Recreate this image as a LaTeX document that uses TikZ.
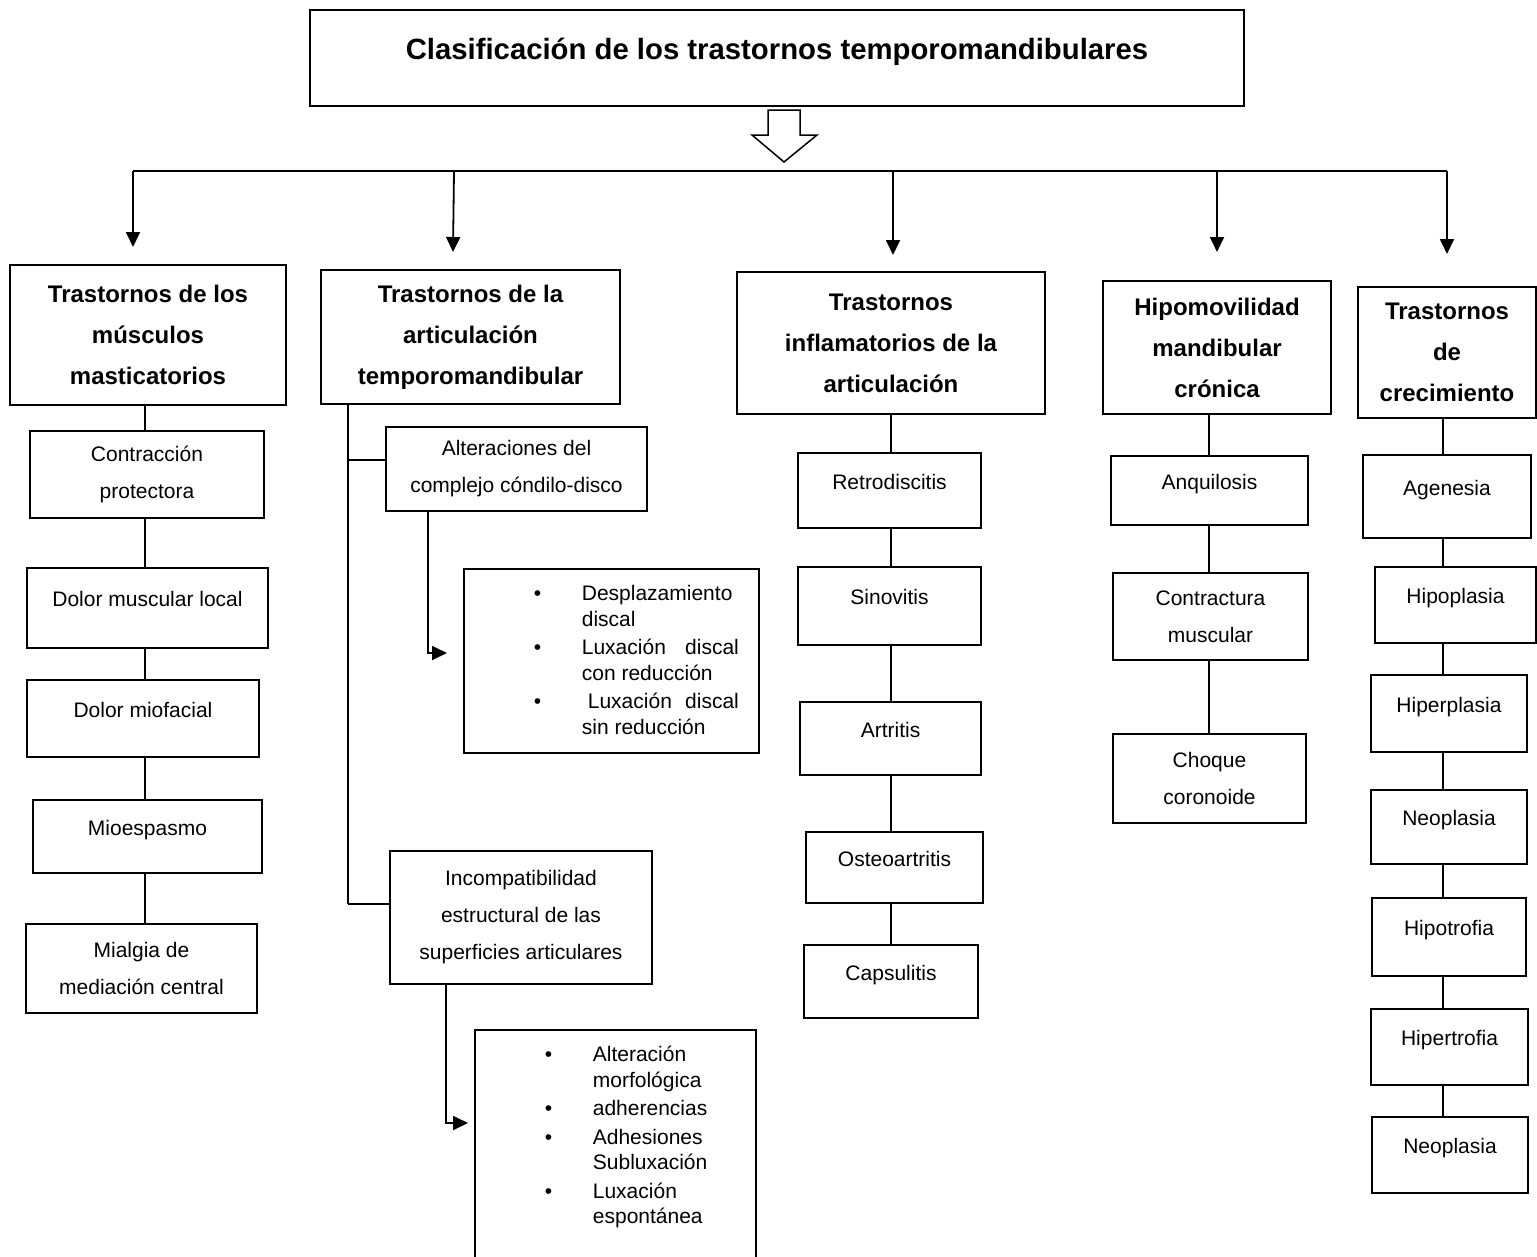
\documentclass[tikz,border=0pt]{standalone}
\usepackage{fontspec}
\setmainfont{Liberation Sans}
\usetikzlibrary{
  calc,
  arrows.meta,
}
\tikzset{
  box/.style = {draw, line width=1.8pt, inner sep=2pt, align=center,
      font=\fontsize{21}{37}\selectfont},
  lone/.style = {box, text height=15pt, text depth=18pt}, % one line, text sits high
  head/.style = {box, font=\fontsize{24}{41}\selectfont\bfseries},
  wh/.style 2 args = {minimum width=#1pt, minimum height=#2pt},
  listbox/.style = {draw, line width=1.8pt, inner sep=0pt,
      anchor=north west, font=\fontsize{21}{25.5}\selectfont},
  link/.style = {line width=1.8pt},
  arr/.style = {link, -{Triangle[length=15pt, width=14pt]}},
}

\begin{document}
\begin{tikzpicture}[x=1pt, y=-1pt]
  \useasboundingbox (0,0) rectangle (1537,1256);

  % title and hollow arrow
  \node[box, wh={934}{96}, font=\fontsize{29.3}{35}\selectfont\bfseries,
    text height=21pt, text depth=18pt] (title) at (777,58)
    {Clasificación de los trastornos temporomandibulares};
  \draw[line width=1.5pt] (768,110) -- (800,110) -- (800,135) -- (817,135)
    -- (784,162) -- (752,135) -- (768,135) -- cycle;

  % headings
  \node[head, wh={276}{140}] (hd1) at (148,335)
    {Trastornos de los\\músculos\\masticatorios};
  \node[head, wh={299}{134}] (hd2) at (470.5,337)
    {Trastornos de la\\articulación\\temporomandibular};
  \node[head, wh={308}{142}] (hd3) at (891,343)
    {Trastornos\\inflamatorios de la\\articulación};
  \node[head, wh={228}{133}] (hd4) at (1217,347.5)
    {Hipomovilidad\\mandibular\\crónica};
  \node[head, wh={178}{131}] (hd5) at (1447,352.5)
    {Trastornos\\de\\crecimiento};

  % bus with arrows
  \coordinate (b1) at (133,171);
  \coordinate (b2) at (454,171);
  \coordinate (b3) at (893,171);
  \coordinate (b4) at (1217,171);
  \coordinate (b5) at (1447,171);
  \coordinate (t1) at (133,247);
  \coordinate (t2) at (453,252);
  \coordinate (t3) at (893,255);
  \coordinate (t4) at (1217,252);
  \coordinate (t5) at (1447,254);
  \draw[link] (b1) -- (b5);
  \draw[arr] (b1) -- (t1);
  \draw[arr] (b2) -- (t2);
  \draw[arr] (b3) -- (t3);
  \draw[arr] (b4) -- (t4);
  \draw[arr] (b5) -- (t5);

  % muscles
  \node[box, wh={234}{87}] (mc1) at (147,474.5) {Contracción\\protectora};
  \node[lone, wh={241}{80}] (mc2) at (147.5,608) {Dolor muscular local};
  \node[lone, wh={232}{77}] (mc3) at (143,718.5) {Dolor miofacial};
  \node[lone, wh={229}{73}] (mc4) at (147.5,836.5) {Mioespasmo};
  \node[box, wh={231}{89}] (mc5) at (141.5,968.5) {Mialgia de\\mediación central};

  % joint
  \node[box, wh={261}{84}] (alt) at (516.5,469)
    {Alteraciones del\\complejo cóndilo-disco};
  \node[box, wh={262}{133}] (inc) at (521,917.5)
    {Incompatibilidad\\estructural de las\\superficies articulares};
  \node[listbox] (lst1) at (463,568) {%
    \begin{minipage}[t][184pt][t]{295pt}
      \vspace*{14pt}\noindent\hspace*{70pt}%
      \begin{tabular}[t]{@{}p{48pt}@{}p{157pt}@{}}
        \textbullet & Desplazamiento\\
                    & discal\\[3pt]
        \textbullet & \makebox[\linewidth][l]{Luxación\hfill discal}\\
                    & con reducción\\[3pt]
        \textbullet & \makebox[\linewidth][l]{\hspace{6pt}Luxación\hfill discal}\\
                    & sin reducción
      \end{tabular}
    \end{minipage}};
  \node[listbox] (lst2) at (474,1029) {%
    \begin{minipage}[t][271pt][t]{281pt}
      \vspace*{14pt}\noindent\hspace*{70pt}%
      \begin{tabular}[t]{@{}p{48pt}@{}p{157pt}@{}}
        \textbullet & Alteración\\
                    & morfológica\\[3pt]
        \textbullet & adherencias\\[3pt]
        \textbullet & Adhesiones\\
                    & Subluxación\\[3pt]
        \textbullet & Luxación\\
                    & espontánea
      \end{tabular}
    \end{minipage}};

  % inflammatory
  \node[lone, wh={183}{75}] (in1) at (889.5,490.5) {Retrodiscitis};
  \node[lone, wh={183}{78}] (in2) at (889.5,606) {Sinovitis};
  \node[lone, wh={181}{73}] (in3) at (890.5,738.5) {Artritis};
  \node[lone, wh={177}{71}] (in4) at (894.5,867.5) {Osteoartritis};
  \node[lone, wh={174}{73}] (in5) at (891,981.5) {Capsulitis};

  % hypomobility
  \node[lone, wh={197}{69}] (hm1) at (1209.5,490.5) {Anquilosis};
  \node[box, wh={195}{87}] (hm2) at (1210.5,616.5) {Contractura\\muscular};
  \node[box, wh={193}{89}] (hm3) at (1209.5,778.5) {Choque\\coronoide};

  % growth
  \node[lone, wh={168}{83}] (cr1) at (1447,496.5) {Agenesia};
  \node[lone, wh={161}{76}] (cr2) at (1455.5,605) {Hipoplasia};
  \node[lone, wh={156}{77}] (cr3) at (1449,713.5) {Hiperplasia};
  \node[lone, wh={156}{74}] (cr4) at (1449,827) {Neoplasia};
  \node[lone, wh={154}{78}] (cr5) at (1449,937) {Hipotrofia};
  \node[lone, wh={157}{76}] (cr6) at (1449.5,1047) {Hipertrofia};
  \node[lone, wh={156}{76}] (cr7) at (1450,1155) {Neoplasia};

  % column lines
  \coordinate (x1) at (145,0);
  \coordinate (x3) at (891,0);
  \coordinate (x4) at (1209,0);
  \coordinate (x5) at (1443,0);
  \foreach \a/\b in {hd1/mc1, mc1/mc2, mc2/mc3, mc3/mc4, mc4/mc5}
    \draw[link] (\a.south -| x1) -- (\b.north -| x1);
  \foreach \a/\b in {hd3/in1, in1/in2, in2/in3, in3/in4, in4/in5}
    \draw[link] (\a.south -| x3) -- (\b.north -| x3);
  \foreach \a/\b in {hd4/hm1, hm1/hm2, hm2/hm3}
    \draw[link] (\a.south -| x4) -- (\b.north -| x4);
  \foreach \a/\b in {hd5/cr1, cr1/cr2, cr2/cr3, cr3/cr4, cr4/cr5, cr5/cr6, cr6/cr7}
    \draw[link] (\a.south -| x5) -- (\b.north -| x5);

  % joint trunk and branches
  \coordinate (k) at (348,904);
  \draw[link] (hd2.south -| k) -- (k);
  \draw[link] ([yshift=9pt]alt.west) -- ([yshift=9pt]alt.west -| k);
  \draw[link] (k) -- (k -| inc.west);
  \draw[arr] ([xshift=-88.5pt]alt.south) |- ([shift={(-16pt,-85pt)}]lst1.north west);
  \draw[arr] ([xshift=-75pt]inc.south) |- ([shift={(-6pt,-94pt)}]lst2.north west);
\end{tikzpicture}
\end{document}
